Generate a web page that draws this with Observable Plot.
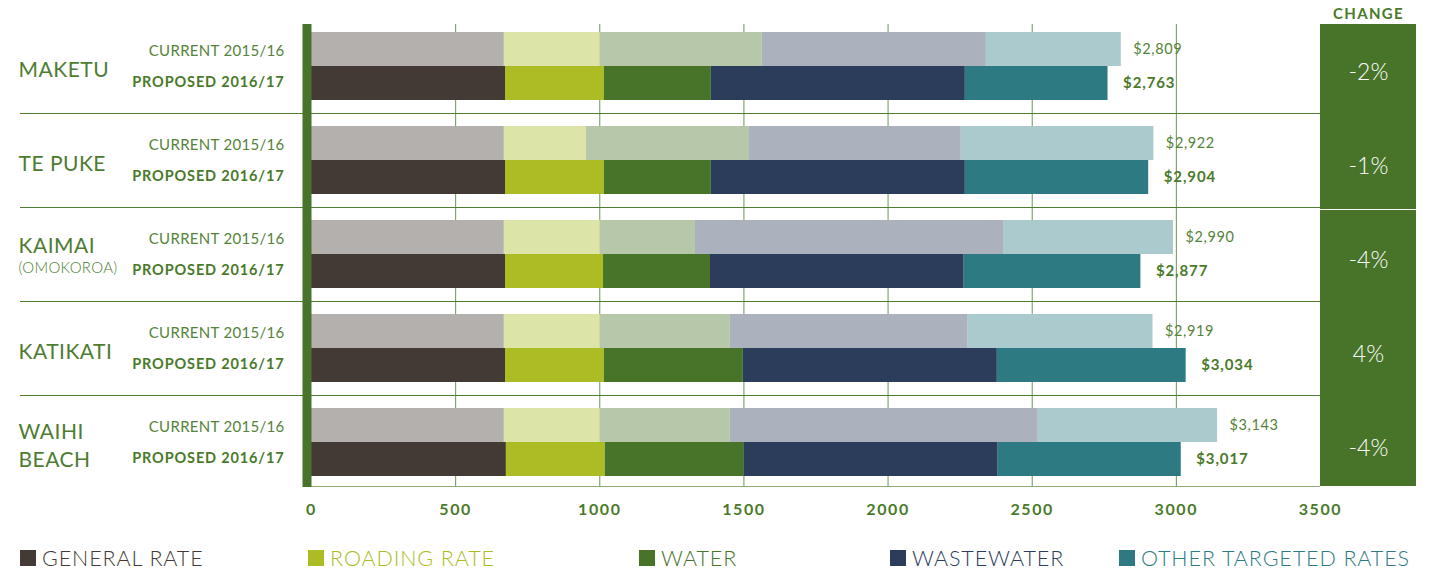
<!DOCTYPE html>
<html><head><meta charset="utf-8">
<script src="https://cdn.jsdelivr.net/npm/d3@7"></script>
<script src="https://cdn.jsdelivr.net/npm/@observablehq/plot@0.6"></script>
<style>
html,body{margin:0;padding:0;background:#fff;}
#wrap{position:relative;width:1429px;height:571px;overflow:hidden;font-family:Lato,"Open Sans",sans-serif;}
#legend{position:relative;height:31px;}
.item{position:absolute;top:8px;display:flex;align-items:center;height:20px;font-size:21.5px;font-weight:300;letter-spacing:0.9px;white-space:nowrap;line-height:20px}
.sw{width:16px;height:16px;margin-right:6px;flex:none}
</style></head><body><div id="wrap"><div id="chart"></div><div id="legend"></div></div>
<script>
// ---- data ----
const towns = ["MAKETU", "TE PUKE", "KAIMAI", "KATIKATI", "WAIHI\nBEACH"];
const townNotes = ["", "", "(OMOKOROA)", "", ""];
const periods = ["CURRENT 2015/16", "PROPOSED 2016/17"];
const categories = ["GENERAL RATE", "ROADING RATE", "WATER", "WASTEWATER", "OTHER TARGETED RATES"];
// per town: general, roading, water, wastewater, other targeted
const current = [
  [669, 333, 562, 777, 468],
  [669, 285, 565, 735, 668],
  [669, 333, 330, 1071, 587],
  [669, 333, 451, 825, 641],
  [669, 333, 451, 1068, 622]
];
const proposed = [
  [673, 343, 371, 881, 495],
  [673, 343, 371, 881, 636],
  [673, 340, 371, 880, 613],
  [673, 343, 482, 881, 655],
  [676, 343, 482, 881, 635]
];
const currentTotals = [2809, 2922, 2990, 2919, 3143];
const proposedTotals = [2763, 2904, 2877, 3034, 3017];
const changes = ["-2%", "-1%", "-4%", "4%", "-4%"];
const xTicks = [0, 500, 1000, 1500, 2000, 2500, 3000, 3500];

// ---- styling / layout ----
const colors = ["#433a35", "#abbc25", "#48742a", "#2c3d5b", "#2e7a82"];
const light = colors.map(c => d3.interpolateRgb("#ffffff", c)(0.4));
const green = "#4a7a2a";
const pad = 13 / 94, barH = 34 / 94;   // bar placement inside a town's row (row = 1 unit)
const legendX = [20, 308, 639, 890, 1119];

const segs = [];
towns.forEach((t, i) => {
  [current, proposed].forEach((src, p) => {
    let acc = 0;
    src[i].forEach((v, c) => {
      segs.push({town: i, period: p, cat: c, x1: acc, x2: acc + v,
        y1: i + pad + p * barH, y2: i + pad + (p + 1) * barH});
      acc += v;
    });
  });
});
const rows = d3.range(towns.length);
const fmt = d => "$" + d3.format(",")(d);

const chart = Plot.plot({
  width: 1429, height: 540,
  marginLeft: 311, marginRight: 109, marginTop: 19, marginBottom: 51,
  x: {domain: [0, 3500], axis: null},
  y: {domain: [0, 5], reverse: true, axis: null},
  style: {fontFamily: "Lato, 'Open Sans', sans-serif", background: "white", overflow: "visible"},
  marks: [
    Plot.ruleX(xTicks.filter(d => d > 0 && d < 3500), {x: d => d, y1: 0, y2: 5, insetTop: 5, insetBottom: 3, stroke: "#6e9455", strokeWidth: 1}),
    Plot.ruleY([5], {y: d => d, dy: -3, stroke: "#8eaa75", strokeWidth: 1.2}),
    Plot.ruleY([1, 2, 3, 4], {y: d => d, insetLeft: -291, stroke: "#4f7d32", strokeWidth: 1.2}),
    Plot.rect(segs, {x1: "x1", x2: "x2", y1: "y1", y2: "y2",
      fill: d => d.period === 0 ? light[d.cat] : colors[d.cat]}),
    Plot.ruleX([0], {x: d => d, y1: 0, y2: 5, insetTop: 5, insetBottom: 2, dx: -4.5, stroke: "#48742a", strokeWidth: 9}),
    Plot.rect([3500], {x1: d => d, x2: d => d, y1: 0, y2: 5, insetRight: -96, insetTop: 5, insetBottom: 3, fill: "#48742a"}),
    Plot.ruleY([2], {y: d => d, dy: 2, insetLeft: 1009, insetRight: -96, stroke: "white", strokeWidth: 1.2}),
    Plot.text(["CHANGE"], {frameAnchor: "top-right", dx: 48, dy: -5, textAnchor: "middle", lineAnchor: "middle", fontSize: 15, fontWeight: 700, fill: green}),
    Plot.text(changes, {y: (d, i) => i + 0.5, frameAnchor: "right", dx: 48, dy: 6, textAnchor: "middle", fontSize: 23, fontWeight: 300, fill: "white"}),
    Plot.text(towns, {filter: (d, i) => !townNotes[i], y: (d, i) => i + 0.5, frameAnchor: "left", dx: -293, dy: 2, textAnchor: "start", fontSize: 21, lineHeight: 1.33, fill: "#4e7c31"}),
    Plot.text(towns, {filter: (d, i) => !!townNotes[i], y: (d, i) => i + 0.5, frameAnchor: "left", dx: -293, dy: -8, textAnchor: "start", fontSize: 21, fill: "#4e7c31"}),
    Plot.text(townNotes, {filter: d => !!d, y: (d, i) => i + 0.5, frameAnchor: "left", dx: -293, dy: 14, textAnchor: "start", fontSize: 15, fontWeight: 300, fill: "#4e7c31"}),
    Plot.text(rows, {y: i => i + pad + 0.5 * barH, text: () => periods[0], frameAnchor: "left", dx: -27, dy: 2, textAnchor: "end", fontSize: 15, fill: "#55833a"}),
    Plot.text(rows, {y: i => i + pad + 1.5 * barH, text: () => periods[1], frameAnchor: "left", dx: -27, dy: -1, textAnchor: "end", fontSize: 14.5, fontWeight: 700, fill: green}),
    Plot.text(currentTotals, {x: d => d, y: (d, i) => i + pad + 0.5 * barH, text: fmt, dx: 12, textAnchor: "start", fontSize: 14.5, fill: "#55833a"}),
    Plot.text(proposedTotals, {x: d => d, y: (d, i) => i + pad + 1.5 * barH, text: fmt, dx: 15, textAnchor: "start", fontSize: 15, fontWeight: 700, fill: green}),
    Plot.text(xTicks, {x: d => d, frameAnchor: "bottom", dy: 25, text: d => String(d), fontSize: 16, fontWeight: 700, fill: green})
  ]
});
document.getElementById("chart").appendChild(chart);

// letter-spacing tweaks (Plot text marks have no letter-spacing option)
const spacing = new Map([
  [periods[0], 0.3], [periods[1], 0.85], ["CHANGE", 1.3]
]);
towns.forEach(t => spacing.set(t, 0.5));
townNotes.forEach(t => t && spacing.set(t, 0.3));
currentTotals.forEach(t => spacing.set(fmt(t), 0.6));
proposedTotals.forEach(t => spacing.set(fmt(t), 0.9));
xTicks.forEach(t => spacing.set(String(t), 1.6));
d3.select(chart).selectAll("text").each(function() {
  const s = spacing.get(this.textContent);
  if (s != null) this.setAttribute("letter-spacing", s);
});
d3.select(chart).selectAll("tspan").each(function() {
  this.parentNode.setAttribute("letter-spacing", 0.5);
});

const legend = document.getElementById("legend");
categories.forEach((c, i) => {
  const it = document.createElement("div");
  it.className = "item";
  it.style.left = legendX[i] + "px";
  it.style.color = colors[i];
  const sw = document.createElement("span");
  sw.className = "sw";
  sw.style.background = colors[i];
  it.appendChild(sw);
  it.appendChild(document.createTextNode(c));
  legend.appendChild(it);
});
</script></body></html>
